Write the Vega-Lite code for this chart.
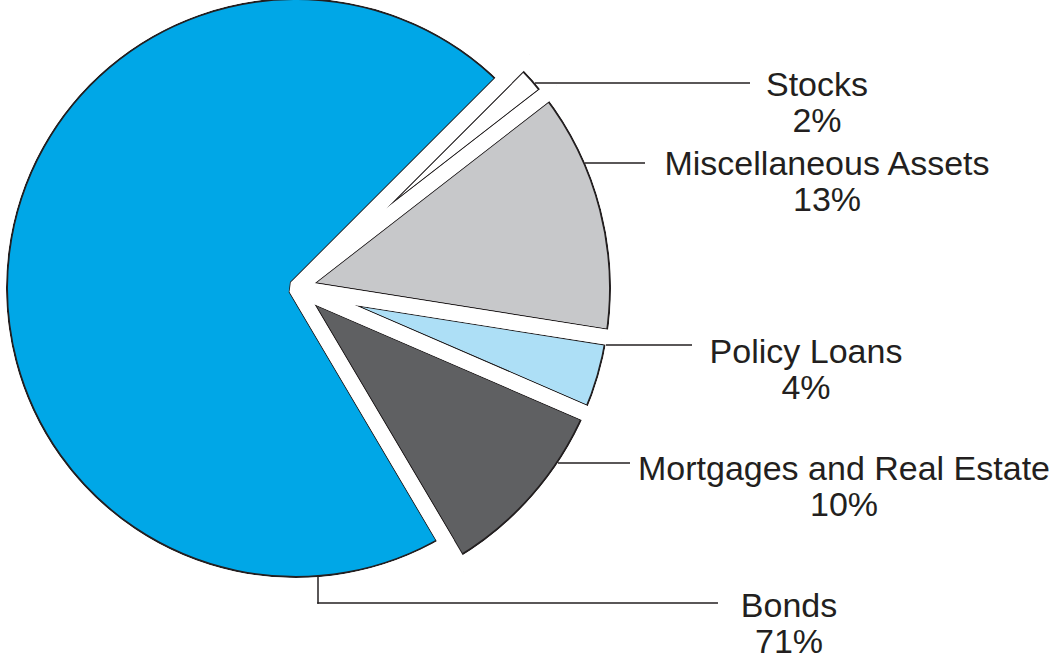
{
  "$schema": "https://vega.github.io/schema/vega-lite/v6.json",
  "width": 592,
  "height": 576,
  "autosize": {"type": "none"},
  "padding": {"left": 0, "top": 0, "right": 471, "bottom": 83},
  "background": "white",
  "config": {"view": {"stroke": null}},
  "data": {
    "values": [
      {"category": "Stocks", "share": 0.02, "rank": 1},
      {"category": "Miscellaneous Assets", "share": 0.13, "rank": 2},
      {"category": "Policy Loans", "share": 0.04, "rank": 3},
      {"category": "Mortgages and Real Estate", "share": 0.10, "rank": 4},
      {"category": "Bonds", "share": 0.71, "rank": 5}
    ]
  },
  "transform": [
    {"stack": "share", "groupby": [], "sort": [{"field": "rank", "order": "ascending"}], "as": ["s0", "s1"]}
  ],
  "layer": [
    {
      "mark": {"type": "arc", "stroke": "#231f20", "strokeWidth": 17, "strokeJoin": "bevel"},
      "encoding": {
        "theta": {"field": "s0", "type": "quantitative", "scale": {"domain": [0, 1], "range": [0.7854, 7.0686]}},
        "theta2": {"field": "s1"},
        "order": {"field": "rank", "type": "quantitative"},
        "radius": {"field": "rank", "type": "quantitative", "scale": {"type": "linear", "domain": [0, 0.5, 4, 5], "range": [0, 321.5, 321.5, 296.5], "zero": false, "nice": false}},
        "color": {
          "field": "category", "type": "nominal", "legend": null,
          "scale": {
            "domain": ["Stocks", "Miscellaneous Assets", "Policy Loans", "Mortgages and Real Estate", "Bonds"],
            "range": ["#ffffff", "#c7c8ca", "#addff6", "#5f6062", "#00a7e7"]
          }
        }
      }
    },
    {
      "mark": {"type": "arc", "fill": "white", "fillOpacity": 0, "stroke": "white", "strokeWidth": 15, "strokeJoin": "bevel", "radiusOffset": 1},
      "encoding": {
        "theta": {"field": "s0", "type": "quantitative"},
        "theta2": {"field": "s1"},
        "order": {"field": "rank", "type": "quantitative"},
        "radius": {"field": "rank", "type": "quantitative"}
      }
    },
    {
      "mark": {"type": "arc", "fill": "white", "radiusOffset": -6.5},
      "encoding": {
        "theta": {"field": "s0", "type": "quantitative"},
        "theta2": {"field": "s1"},
        "order": {"field": "rank", "type": "quantitative"},
        "radius": {"field": "rank", "type": "quantitative"},
        "radius2": {"value": 380}
      }
    },
    {
      "mark": {"type": "tick", "orient": "horizontal", "thickness": 1.5, "color": "#231f20", "opacity": 1},
      "encoding": {
        "x": {"field": "rank", "type": "quantitative", "axis": null, "scale": {"domain": [1, 2, 3, 4, 5], "range": [642.5, 615, 649, 594, 517.6], "nice": false, "zero": false}},
        "y": {"field": "rank", "type": "quantitative", "axis": null, "scale": {"domain": [1, 2, 3, 4, 5], "range": [83, 163, 345, 463, 603], "nice": false, "zero": false}},
        "size": {"field": "rank", "type": "quantitative", "legend": null, "scale": {"domain": [1, 2, 3, 4, 5], "range": [215, 60, 86, 72, 400.75], "zero": false, "nice": false}}
      }
    },
    {
      "transform": [{"filter": "datum.rank === 5"}],
      "mark": {"type": "tick", "orient": "vertical", "thickness": 1.5, "color": "#231f20", "opacity": 1},
      "encoding": {
        "x": {"field": "rank", "type": "quantitative", "axis": null, "scale": {"domain": [4, 5], "range": [318, 318], "nice": false, "zero": false}},
        "y": {"field": "rank", "type": "quantitative", "axis": null, "scale": {"domain": [4, 5], "range": [590.4, 590.4], "nice": false, "zero": false}},
        "size": {"field": "rank", "type": "quantitative", "legend": null, "scale": {"domain": [4, 5], "range": [26.75, 26.75], "zero": false, "nice": false}}
      }
    },
    {
      "mark": {"type": "text", "font": "Liberation Sans", "fontSize": 34, "fill": "#231f20", "align": "center", "baseline": "alphabetic"},
      "encoding": {
        "x": {"field": "rank", "type": "quantitative", "axis": null, "scale": {"domain": [1, 2, 3, 4, 5], "range": [817, 827, 806, 844, 789], "nice": false, "zero": false}},
        "y": {"field": "rank", "type": "quantitative", "axis": null, "scale": {"domain": [1, 2, 3, 4, 5], "range": [96, 175, 363, 480, 617], "nice": false, "zero": false}},
        "text": {"field": "category", "type": "nominal"}
      }
    },
    {
      "mark": {"type": "text", "font": "Liberation Sans", "fontSize": 34, "fill": "#231f20", "align": "center", "baseline": "alphabetic", "dy": 36},
      "encoding": {
        "x": {"field": "rank", "type": "quantitative", "axis": null, "scale": {"domain": [1, 2, 3, 4, 5], "range": [817, 827, 806, 844, 789], "nice": false, "zero": false}},
        "y": {"field": "rank", "type": "quantitative", "axis": null, "scale": {"domain": [1, 2, 3, 4, 5], "range": [96, 175, 363, 480, 617], "nice": false, "zero": false}},
        "text": {"field": "share", "type": "quantitative", "format": ".0%"}
      }
    }
  ],
  "resolve": {"scale": {"x": "independent", "y": "independent", "size": "independent"}}
}
